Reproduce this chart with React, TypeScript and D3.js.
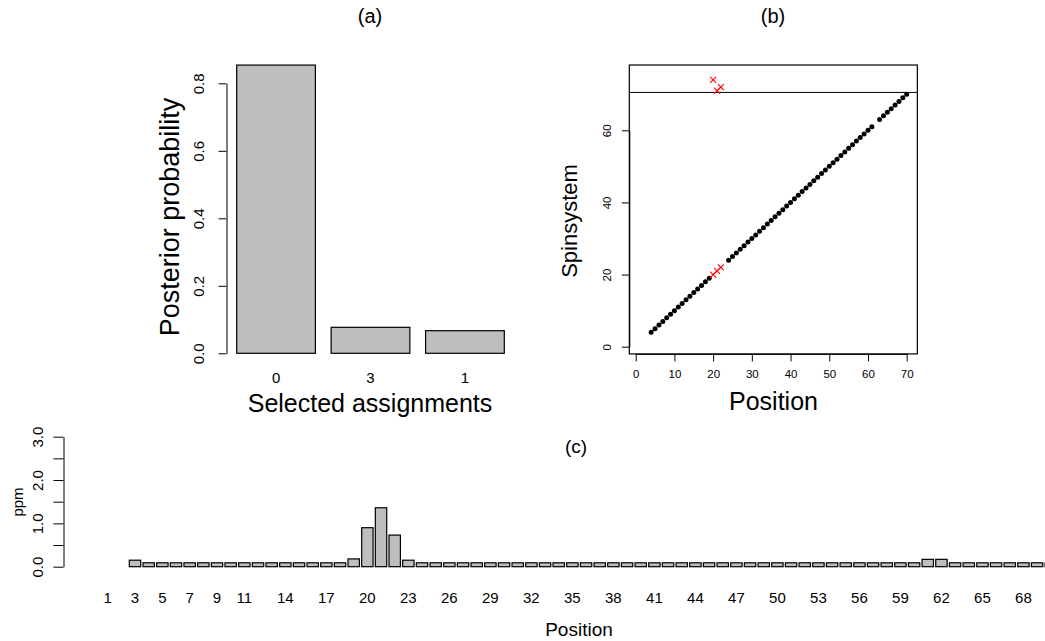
import React, { useEffect, useRef } from 'react';
import * as d3 from 'd3';

// (a) posterior probability of the selected assignments
const assignLabels = ['0', '3', '1'];
const assignProb = [0.854, 0.077, 0.067];

// (b) position vs spinsystem
const assignedPos = [
  4, 5, 6, 7, 8, 9, 10, 11, 12, 13, 14, 15, 16, 17, 18, 19,
  24, 25, 26, 27, 28, 29, 30, 31, 32, 33, 34, 35, 36, 37, 38, 39, 40, 41, 42,
  43, 44, 45, 46, 47, 48, 49, 50, 51, 52, 53, 54, 55, 56, 57, 58, 59, 60, 61,
  63, 64, 65, 66, 67, 68, 69, 70,
];
const assignedSpin = [
  4, 5, 6, 7, 8, 9, 10, 11, 12, 13, 14, 15, 16, 17, 18, 19,
  24, 25, 26, 27, 28, 29, 30, 31, 32, 33, 34, 35, 36, 37, 38, 39, 40, 41, 42,
  43, 44, 45, 46, 47, 48, 49, 50, 51, 52, 53, 54, 55, 56, 57, 58, 59, 60, 61,
  63, 64, 65, 66, 67, 68, 69, 70,
];
const crossPos = [20, 21, 22, 20, 21, 22];
const crossSpin = [20, 21, 22, 74, 71, 72];
const cutoffLine = 70.5;
const posTicks = [0, 10, 20, 30, 40, 50, 60, 70];
const spinTicks = [0, 20, 40, 60];

// (c) ppm deviation per position (1..70)
const ppmPositions = [
  1, 2, 3, 4, 5, 6, 7, 8, 9, 10, 11, 12, 13, 14, 15, 16, 17, 18, 19, 20,
  21, 22, 23, 24, 25, 26, 27, 28, 29, 30, 31, 32, 33, 34, 35, 36, 37, 38, 39, 40,
  41, 42, 43, 44, 45, 46, 47, 48, 49, 50, 51, 52, 53, 54, 55, 56, 57, 58, 59, 60,
  61, 62, 63, 64, 65, 66, 67, 68, 69, 70,
];
const ppmValues = [
  null, null, 0.15, 0.09, 0.09, 0.09, 0.09, 0.09, 0.09, 0.09, 0.09, 0.09, 0.09, 0.09, 0.09, 0.09, 0.09, 0.09, 0.18, 0.9,
  1.36, 0.73, 0.15, 0.09, 0.09, 0.09, 0.09, 0.09, 0.09, 0.09, 0.09, 0.09, 0.09, 0.09, 0.09, 0.09, 0.09, 0.09, 0.09, 0.09,
  0.09, 0.09, 0.09, 0.09, 0.09, 0.09, 0.09, 0.09, 0.09, 0.09, 0.09, 0.09, 0.09, 0.09, 0.09, 0.09, 0.09, 0.09, 0.09, 0.09,
  0.17, 0.17, 0.09, 0.09, 0.09, 0.09, 0.09, 0.09, 0.09, 0.09,
];
const ppmShownLabels = [1, 3, 5, 7, 9, 11, 14, 17, 20, 23, 26, 29, 32, 35, 38, 41, 44, 47, 50, 53, 56, 59, 62, 65, 68];
const ppmTicks = [0, 0.5, 1, 1.5, 2, 2.5, 3];

const FONT = '"Liberation Sans", Arial, Helvetica, sans-serif';
const BAR_FILL = '#bebebe';

const App = () => {
  const ref = useRef<SVGSVGElement>(null);

  useEffect(() => {
    const svg = d3.select(ref.current);
    svg.selectAll('*').remove();
    svg.attr('font-family', FONT);

    // ---------- (a) ----------
    const ax = d3.scaleLinear().domain([0.064, 3.736]).range([226, 515]);
    const ay = d3.scaleLinear().domain([0, 0.8]).range([353.3, 83.3]);
    const ga = svg.append('g');

    ga.selectAll('rect')
      .data(assignProb)
      .join('rect')
      .attr('x', (d, i) => ax(0.2 + 1.2 * i))
      .attr('width', ax(1) - ax(0))
      .attr('y', d => ay(d))
      .attr('height', d => ay(0) - ay(d))
      .attr('fill', BAR_FILL)
      .attr('stroke', '#000')
      .attr('stroke-width', 1.2);

    const aAxis = ga.append('g')
      .attr('transform', 'translate(226.5,0)')
      .call(d3.axisLeft(ay).tickValues([0, 0.2, 0.4, 0.6, 0.8]).tickSize(8).tickSizeOuter(0).tickFormat(d3.format('.1f')));
    aAxis.select('.domain').attr('stroke', '#000');
    aAxis.selectAll('text')
      .attr('x', null).attr('dy', null)
      .attr('transform', 'translate(-23,0) rotate(-90)')
      .attr('text-anchor', 'middle')
      .attr('font-size', 15)
      .attr('font-family', FONT)
      .attr('fill', '#000');

    ga.selectAll('text.xl')
      .data(assignLabels)
      .join('text')
      .attr('class', 'xl')
      .attr('x', (d, i) => ax(0.7 + 1.2 * i))
      .attr('y', 383)
      .attr('text-anchor', 'middle')
      .attr('font-size', 15)
      .text(d => d);

    ga.append('text').attr('x', 370).attr('y', 412).attr('text-anchor', 'middle')
      .attr('font-size', 25).text('Selected assignments');
    ga.append('text').attr('transform', 'translate(179,217) rotate(-90)').attr('text-anchor', 'middle')
      .attr('font-size', 27).text('Posterior probability');
    ga.append('text').attr('x', 370).attr('y', 23).attr('text-anchor', 'middle')
      .attr('font-size', 20).text('(a)');

    // ---------- (b) ----------
    const bx = d3.scaleLinear().domain([0, 70]).range([635.7, 906.7]);
    const by = d3.scaleLinear().domain([0, 60]).range([346.7, 130.3]);
    const gb = svg.append('g');
    const xlim = [-1.65, 72.75];
    const ylim = [-2.0, 78.1];

    gb.append('rect')
      .attr('x', bx(xlim[0])).attr('y', by(ylim[1]))
      .attr('width', bx(xlim[1]) - bx(xlim[0]))
      .attr('height', by(ylim[0]) - by(ylim[1]))
      .attr('fill', 'none').attr('stroke', '#000').attr('stroke-width', 1.2);

    gb.append('line')
      .attr('x1', bx(xlim[0])).attr('x2', bx(xlim[1]))
      .attr('y1', by(cutoffLine)).attr('y2', by(cutoffLine))
      .attr('stroke', '#000').attr('stroke-width', 1);

    gb.selectAll('circle')
      .data(assignedPos)
      .join('circle')
      .attr('cx', d => bx(d))
      .attr('cy', (d, i) => by(assignedSpin[i]))
      .attr('r', 2.5)
      .attr('fill', '#000');

    const cs = 3;
    gb.selectAll('path.cross')
      .data(crossPos)
      .join('path')
      .attr('class', 'cross')
      .attr('d', (d, i) => {
        const cx = bx(d), cy = by(crossSpin[i]);
        return `M${cx - cs},${cy - cs}L${cx + cs},${cy + cs}M${cx - cs},${cy + cs}L${cx + cs},${cy - cs}`;
      })
      .attr('stroke', '#ff0000')
      .attr('stroke-width', 1.1)
      .attr('fill', 'none');

    const bxAxis = gb.append('g')
      .attr('transform', `translate(0,${by(ylim[0])})`)
      .call(d3.axisBottom(bx).tickValues(posTicks).tickSize(7.5).tickSizeOuter(0));
    bxAxis.selectAll('text')
      .attr('y', 24).attr('dy', null)
      .attr('font-size', 11.5).attr('font-family', FONT).attr('fill', '#000');

    const byAxis = gb.append('g')
      .attr('transform', `translate(${bx(xlim[0])},0)`)
      .call(d3.axisLeft(by).tickValues(spinTicks).tickSize(7.5).tickSizeOuter(0));
    byAxis.selectAll('text')
      .attr('x', null).attr('dy', null)
      .attr('transform', 'translate(-18.5,0) rotate(-90)')
      .attr('text-anchor', 'middle')
      .attr('font-size', 11.5).attr('font-family', FONT).attr('fill', '#000');

    gb.append('text').attr('x', 773.5).attr('y', 410).attr('text-anchor', 'middle')
      .attr('font-size', 25).text('Position');
    gb.append('text').attr('transform', 'translate(577,221) rotate(-90)').attr('text-anchor', 'middle')
      .attr('font-size', 22).text('Spinsystem');
    gb.append('text').attr('x', 773).attr('y', 23).attr('text-anchor', 'middle')
      .attr('font-size', 20).text('(b)');

    // ---------- (c) ----------
    const cx = d3.scaleLinear().domain([0, 84]).range([99.7, 99.7 + 84 * 11.39]);
    const cy = d3.scaleLinear().domain([0, 3]).range([566.7, 436.7]);
    const gc = svg.append('g');

    const barData = ppmPositions
      .map((p, i) => ({ p, v: ppmValues[i], i }))
      .filter(d => d.v !== null);

    gc.selectAll('rect')
      .data(barData)
      .join('rect')
      .attr('x', d => cx(0.2 + 1.2 * d.i))
      .attr('width', cx(1) - cx(0))
      .attr('y', d => cy(d.v as number))
      .attr('height', d => cy(0) - cy(d.v as number))
      .attr('fill', BAR_FILL)
      .attr('stroke', '#000')
      .attr('stroke-width', 1.2);

    const cyAxis = gc.append('g')
      .attr('transform', 'translate(63.5,0)')
      .call(d3.axisLeft(cy).tickValues(ppmTicks).tickSize(10).tickSizeOuter(0)
        .tickFormat(d => (Number(d) % 1 === 0 ? d3.format('.1f')(Number(d)) : '')));
    cyAxis.selectAll('text')
      .attr('x', null).attr('dy', null)
      .attr('transform', 'translate(-21,0) rotate(-90)')
      .attr('text-anchor', 'middle')
      .attr('font-size', 15).attr('font-family', FONT).attr('fill', '#000');

    gc.selectAll('text.pl')
      .data(ppmShownLabels)
      .join('text')
      .attr('class', 'pl')
      .attr('x', d => cx(0.7 + 1.2 * (d - 1)))
      .attr('y', 602.5)
      .attr('text-anchor', 'middle')
      .attr('font-size', 15)
      .text(d => String(d));

    gc.append('text').attr('x', 579).attr('y', 636).attr('text-anchor', 'middle')
      .attr('font-size', 19).text('Position');
    gc.append('text').attr('transform', 'translate(23,502) rotate(-90)').attr('text-anchor', 'middle')
      .attr('font-size', 15).text('ppm');
    gc.append('text').attr('x', 576).attr('y', 453).attr('text-anchor', 'middle')
      .attr('font-size', 19).text('(c)');
  }, []);

  return (
    <svg
      ref={ref}
      width={1045}
      height={641}
      style={{ position: 'absolute', left: 0, top: 0, background: '#fff' }}
    />
  );
};

export default App;
